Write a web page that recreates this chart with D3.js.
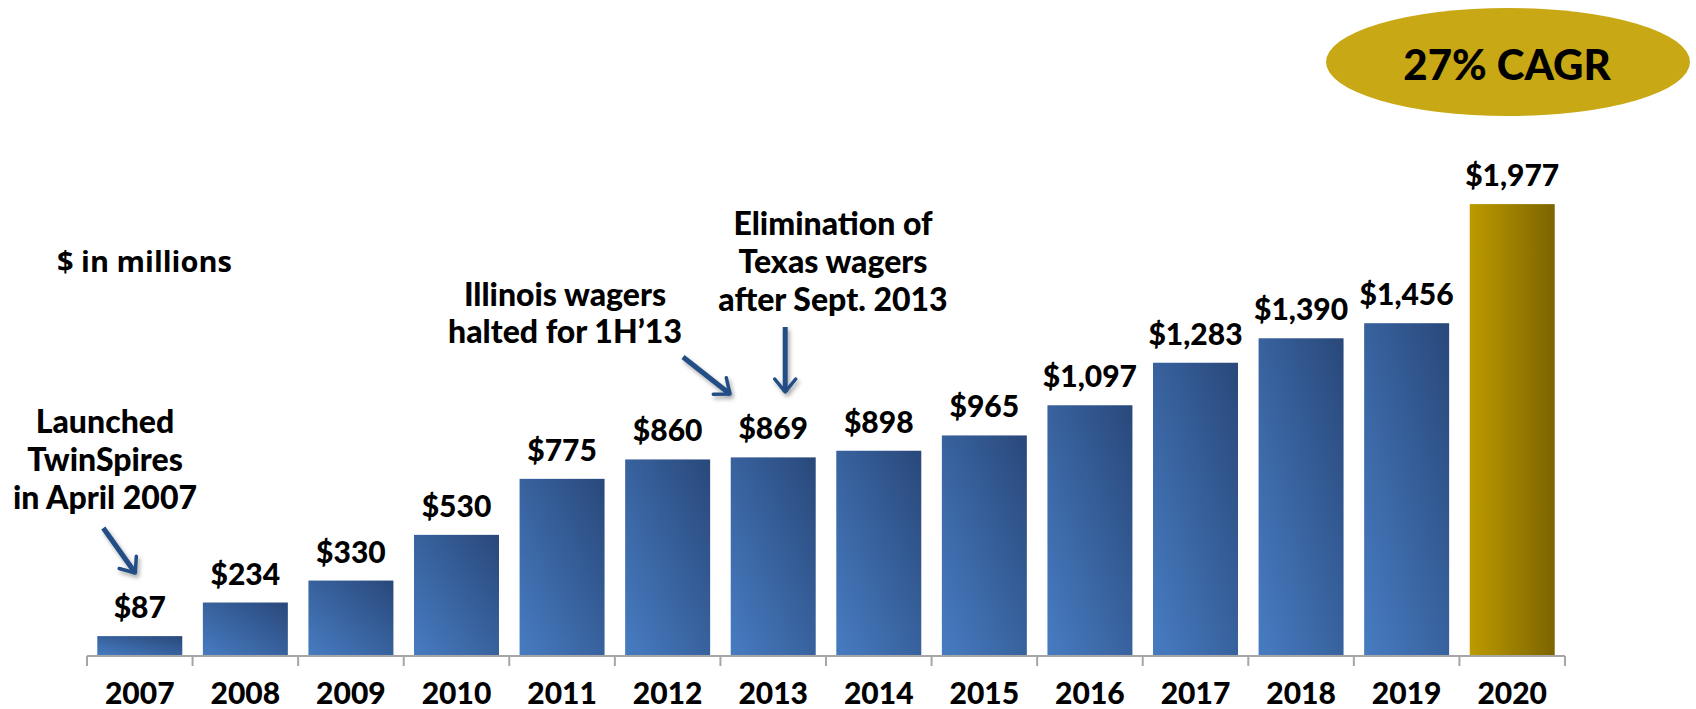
<!DOCTYPE html>
<html>
<head>
<meta charset="utf-8">
<script src="https://cdn.jsdelivr.net/npm/d3@7"></script>
<style>
  body { margin: 0; background: #fff; }
  text { font-family: Lato, "Open Sans", sans-serif; font-weight: 900; fill: #000; }
</style>
</head>
<body>
<div id="graph-holder"></div>
<script>
// data ($ in millions)
var years = ["2007", "2008", "2009", "2010", "2011", "2012", "2013", "2014", "2015", "2016", "2017", "2018", "2019", "2020"];
var wagers = [87, 234, 330, 530, 775, 860, 869, 898, 965, 1097, 1283, 1390, 1456, 1977];
var valueLabels = ["$87", "$234", "$330", "$530", "$775", "$860", "$869", "$898", "$965", "$1,097", "$1,283", "$1,390", "$1,456", "$1,977"];
var launchNote = ["Launched", "TwinSpires", "in April 2007"];
var illinoisNote = ["Illinois wagers", "halted for 1H\u201913"];
var texasNote = ["Elimination of", "Texas wagers", "after Sept. 2013"];
var cagrText = "27% CAGR";

function drawChart() {
  var W = 1696, H = 709;
  var margin = { top: 0, right: 131, bottom: 53, left: 87 },
    width = W - margin.left - margin.right,
    height = H - margin.top - margin.bottom;

  var svg = d3
    .select("#graph-holder")
    .append("svg")
    .attr("width", W)
    .attr("height", H);

  var defs = svg.append("defs");

  // blue bars: lighter bottom-left, darker top-right
  var blue = defs.append("linearGradient")
    .attr("id", "blueGrad")
    .attr("x1", "0").attr("y1", "1").attr("x2", "1").attr("y2", "0");
  blue.append("stop").attr("offset", "0%").attr("stop-color", "#477cc2");
  blue.append("stop").attr("offset", "100%").attr("stop-color", "#29487a");

  var gold = defs.append("linearGradient")
    .attr("id", "goldGrad")
    .attr("x1", "0").attr("y1", "0").attr("x2", "1").attr("y2", "0");
  gold.append("stop").attr("offset", "0%").attr("stop-color", "#bd9a00");
  gold.append("stop").attr("offset", "100%").attr("stop-color", "#7c6400");

  // user space units so the vertical arrow (zero-width box) still renders
  var shadow = defs.append("filter").attr("id", "shadow")
    .attr("filterUnits", "userSpaceOnUse")
    .attr("x", 0).attr("y", 0).attr("width", W).attr("height", H);
  shadow.append("feDropShadow")
    .attr("dx", 2).attr("dy", 3).attr("stdDeviation", 2)
    .attr("flood-color", "#000").attr("flood-opacity", 0.35);

  var marker = defs.append("marker")
    .attr("id", "arrowHead")
    .attr("viewBox", "0 0 10 10")
    .attr("refX", 7).attr("refY", 5)
    .attr("markerWidth", 5).attr("markerHeight", 5)
    .attr("orient", "auto");
  marker.append("path")
    .attr("d", "M1.8,0.8 L7,5 L1.8,9.2")
    .attr("fill", "none")
    .attr("stroke", "#214d85")
    .attr("stroke-width", 1.4)
    .attr("stroke-linecap", "round")
    .attr("stroke-linejoin", "round");

  var g = svg.append("g")
    .attr("transform", "translate(" + margin.left + "," + margin.top + ")");

  var x = d3.scaleBand().domain(years).range([0, width]).paddingInner(0.195).paddingOuter(0.0975);
  // 1977 tops out at y=204 (452px of 656)
  var y = d3.scaleLinear().domain([0, 2870]).range([height, 0]);

  var data = years.map(function(d, i) {
    return { year: d, value: wagers[i], label: valueLabels[i] };
  });

  // bars
  g.selectAll(".bar")
    .data(data)
    .enter()
    .append("rect")
    .attr("class", "bar")
    .attr("x", function(d) { return x(d.year); })
    .attr("y", function(d) { return y(d.value); })
    .attr("width", x.bandwidth())
    .attr("height", function(d) { return height - y(d.value); })
    .attr("fill", function(d) { return d.year === "2020" ? "url(#goldGrad)" : "url(#blueGrad)"; });

  // value labels
  g.selectAll(".val")
    .data(data)
    .enter()
    .append("text")
    .attr("class", "val")
    .attr("x", function(d) { return x(d.year) + x.bandwidth() / 2; })
    .attr("y", function(d) { return y(d.value) - 18; })
    .attr("text-anchor", "middle")
    .style("font-size", "30px")
    .text(function(d) { return d.label; });

  // x axis with ticks between bands
  var axis = g.append("g").attr("transform", "translate(0," + height + ")");
  axis.append("line")
    .attr("x1", 0).attr("x2", width)
    .attr("stroke", "#a6a6a6").attr("stroke-width", 2);
  var step = x.step();
  var edges = d3.range(years.length + 1).map(function(i) { return x(years[0]) - x.paddingOuter() * step + i * step; });
  axis.selectAll(".tick")
    .data(edges)
    .enter()
    .append("line")
    .attr("x1", function(d) { return d; })
    .attr("x2", function(d) { return d; })
    .attr("y1", 0).attr("y2", 10)
    .attr("stroke", "#a6a6a6").attr("stroke-width", 2);
  axis.selectAll(".yr")
    .data(years)
    .enter()
    .append("text")
    .attr("x", function(d) { return x(d) + x.bandwidth() / 2; })
    .attr("y", 48)
    .attr("text-anchor", "middle")
    .style("font-size", "30px")
    .text(function(d) { return d; });

  // "$ in millions"
  svg.append("text")
    .attr("x", 57).attr("y", 272)
    .style("font-family", "'Open Sans', sans-serif")
    .style("font-weight", 700)
    .style("font-size", "29px")
    .text("$ in millions");

  // notes
  function note(lines, cx, baseY, lh) {
    svg.append("g").selectAll("text")
      .data(lines)
      .enter()
      .append("text")
      .attr("x", cx)
      .attr("y", function(d, i) { return baseY + i * lh; })
      .attr("text-anchor", "middle")
      .style("font-size", "32px")
      .text(function(d) { return d; });
  }
  note(launchNote, 105, 433, 38);
  note(illinoisNote, 565, 306, 37);
  note(texasNote, 833, 235, 38);

  // arrows (svg coordinates)
  var cx13 = margin.left + x("2013") + x.bandwidth() / 2;
  var arrows = [
    [[margin.left + x("2007") + 6, 528], [margin.left + x("2007") + 38, 573]],
    [[683, 357], [730, 394]],
    [[cx13 + 12, 327], [cx13 + 12, 392]]
  ];
  svg.selectAll(".arrow")
    .data(arrows)
    .enter()
    .append("path")
    .attr("class", "arrow")
    .attr("d", d3.line())
    .attr("fill", "none")
    .attr("stroke", "#214d85")
    .attr("stroke-width", 5)
    .attr("marker-end", "url(#arrowHead)")
    .attr("filter", "url(#shadow)");

  // CAGR bubble
  svg.append("ellipse")
    .attr("cx", 1508).attr("cy", 62)
    .attr("rx", 182).attr("ry", 54)
    .attr("fill", "#c9a815");
  svg.append("text")
    .attr("x", 1507).attr("y", 80)
    .attr("text-anchor", "middle")
    .style("font-size", "42px")
    .text(cagrText);
}

drawChart();
</script>
</body>
</html>
